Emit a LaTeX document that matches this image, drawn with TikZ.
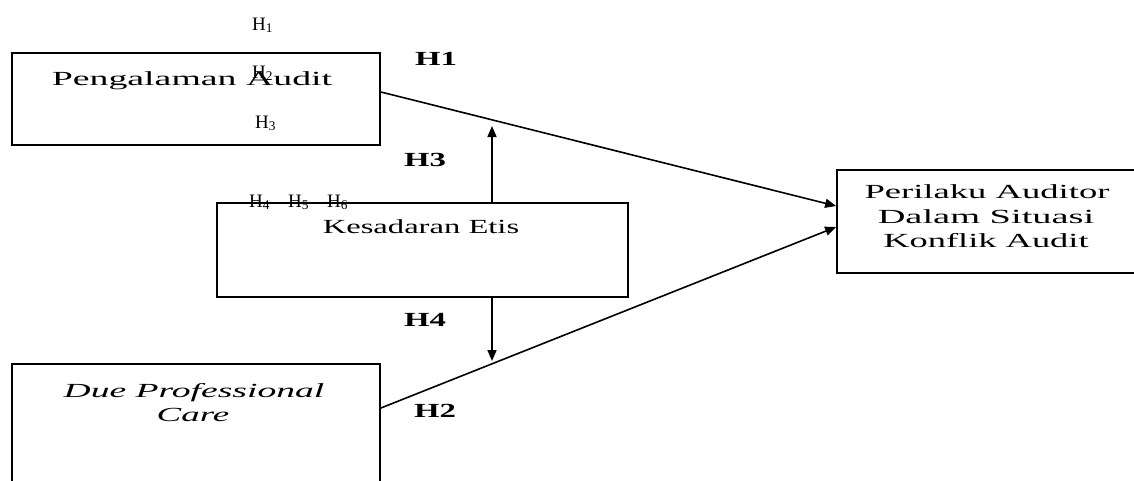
\documentclass[tikz,border=0pt]{standalone}
\usepackage{fontspec}
\setmainfont{Liberation Serif}
\usetikzlibrary{arrows.meta,calc}
\newcommand\stx[2]{\scalebox{#1}[1]{#2}}
\tikzset{
  box/.style={draw=black,line width=1.8pt,inner sep=0pt,fill=none},
  txt/.style={inner sep=0pt,anchor=base,font=\fontsize{20}{24}\selectfont},
  hyp/.style={inner sep=0pt,anchor=base,font=\fontsize{20}{24}\selectfont\bfseries},
  sub/.style={inner sep=0pt,anchor=base west,font=\fontsize{19}{23}\selectfont},
  conn/.style={draw=black,line width=1.6pt,-{Triangle[length=11pt,width=9pt]}}
}
\begin{document}
\begin{tikzpicture}[x=1pt,y=-1pt]
\useasboundingbox (0,0) rectangle (1134,480);
\clip (0,0) rectangle (1134,480);
% boxes
\node[box,minimum width=368pt,minimum height=92pt] (pa) at (196,99) {};
\node[box,minimum width=411pt,minimum height=94pt] (ke) at (422.5,250) {};
\node[box,minimum width=368pt,minimum height=150pt] (dpc) at (196,439) {};
\node[box,minimum width=320pt,minimum height=103pt] (pad) at (997,221.5) {};
% texts
\node[txt] (tpa) at (192,85) {\stx{1.89}{Pengalaman Audit}};
\node[txt] (tke) at (421,233) {\stx{1.63}{Kesadaran Etis}};
\node[txt] (td1) at (194,397) {\stx{1.88}{\itshape Due Professional}};
\node[txt] (td2) at (193,421) {\stx{1.85}{\itshape Care}};
\node[txt] (tp1) at (987,198) {\stx{1.83}{Perilaku Auditor}};
\node[txt] (tp2) at (986,223) {\stx{1.92}{Dalam Situasi}};
\node[txt] (tp3) at (986,247) {\stx{1.82}{Konflik Audit}};
% hypothesis labels
\node[hyp] (h1) at (436,65) {\stx{1.64}{H1}};
\node[hyp] (h3) at (425,166) {\stx{1.64}{H3}};
\node[hyp] (h4) at (425,326) {\stx{1.64}{H4}};
\node[hyp] (h2) at (435,417) {\stx{1.64}{H2}};
% small labels
\node[sub] (s1) at (252,30) {H\textsubscript{1}};
\node[sub] (s2) at (252,78) {H\textsubscript{2}};
\node[sub] (s3) at (255,128) {H\textsubscript{3}};
\node[sub] (s4) at (249,207) {H\textsubscript{4}};
\node[sub] (s5) at (288,207) {H\textsubscript{5}};
\node[sub] (s6) at (327,207) {H\textsubscript{6}};
% connectors
\draw[conn] ([yshift=7pt]pa.east) -- ([yshift=15.5pt]pad.west);
\draw[conn] ([yshift=31pt]dpc.east) -- ([yshift=-5.5pt]pad.west);
\coordinate (upT) at (492,126);
\coordinate (dnT) at (492,361);
\draw[conn] ([xshift=69.5pt]ke.north) -- (upT);
\draw[conn] ([xshift=69.5pt]ke.south) -- (dnT);
\end{tikzpicture}
\end{document}
